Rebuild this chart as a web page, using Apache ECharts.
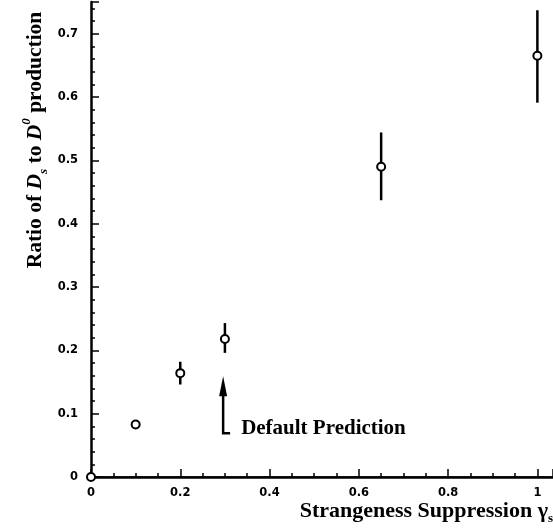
<!DOCTYPE html>
<html>
<head>
<meta charset="utf-8">
<title>Ds / D0 ratio vs strangeness suppression</title>
<script src="https://cdn.jsdelivr.net/npm/echarts@6/dist/echarts.min.js"></script>
<style>
  html, body { margin: 0; padding: 0; background: #fff; }
  #chart { width: 553px; height: 529px; }
</style>
</head>
<body>
<div id="chart"></div>
<script>
// data
var gammaS = [0, 0.1, 0.2, 0.3, 0.65, 1.0]
var ratio = [0.0, 0.083, 0.164, 0.218, 0.49, 0.665]
// error bars (only where drawn)
var errX = [0.2, 0.3, 0.65, 1.0]
var errLow = [0.146, 0.196, 0.437, 0.591]
var errHigh = [0.182, 0.243, 0.544, 0.737]
// "Default Prediction" arrow
var arrowX = 0.296
var arrowTip = 0.159
var arrowFoot = 0.069
var arrowLabel = 'Default Prediction'

;(function () {
  var myChart = echarts.init(document.getElementById('chart'))

  var serif = '"Liberation Serif", "DejaVu Serif", serif'
  var tickFont = { fontFamily: '"DejaVu Sans", sans-serif', fontWeight: 'bold', fontSize: 11.5, color: '#000' }

  var points = gammaS.map(function (x, i) { return [x, ratio[i]] })
  var errData = errX.map(function (x, i) { return [x, errLow[i], errHigh[i]] })

  var option = {
    animation: false,
    backgroundColor: '#fff',
    grid: { left: 91, right: 0, top: 2, bottom: 52 },
    xAxis: [
      {
        type: 'value',
        min: 0,
        max: 1.035,
        interval: 0.2,
        axisLine: { show: true, onZero: false, lineStyle: { color: '#000', width: 2.5 } },
        axisTick: { show: true, inside: true, length: 8, lineStyle: { color: '#000', width: 1.5 } },
        minorTick: { show: true, splitNumber: 4, length: 4, lineStyle: { color: '#000', width: 1.5 } },
        axisLabel: Object.assign({ margin: 10, showMaxLabel: false }, tickFont),
        splitLine: { show: false }
      },
      {
        // top frame line
        type: 'value',
        position: 'top',
        min: 0,
        max: 1.035,
        axisLine: { show: true, lineStyle: { color: '#000', width: 1.5 } },
        axisTick: { show: false },
        axisLabel: { show: false },
        splitLine: { show: false }
      }
    ],
    yAxis: {
      type: 'value',
      min: 0,
      max: 0.75,
      interval: 0.1,
      axisLine: { show: true, onZero: false, lineStyle: { color: '#000', width: 2.5 } },
      axisTick: { show: true, inside: true, length: 8, lineStyle: { color: '#000', width: 1.5 } },
      minorTick: { show: true, splitNumber: 5, length: 4, lineStyle: { color: '#000', width: 1.5 } },
      axisLabel: Object.assign({ margin: 13, showMaxLabel: false }, tickFont),
      splitLine: { show: false }
    },
    graphic: [
      {
        type: 'text',
        x: 553,
        y: 511,
        style: {
          text: '{a|Strangeness Suppression γ}{s|s}',
          align: 'right',
          verticalAlign: 'middle',
          rich: {
            a: { fontFamily: serif, fontWeight: 'bold', fontSize: 22, lineHeight: 28, verticalAlign: 'middle', fill: '#000' },
            s: { fontFamily: serif, fontWeight: 'bold', fontSize: 13, lineHeight: 28, verticalAlign: 'bottom', fill: '#000' }
          }
        }
      },
      {
        type: 'text',
        x: 35,
        y: 140,
        rotation: Math.PI / 2,
        style: {
          text: '{a|Ratio of }{i|D}{s|s}{a| to }{i|D}{p|0}{a| production}',
          align: 'center',
          verticalAlign: 'middle',
          rich: {
            a: { fontFamily: serif, fontWeight: 'bold', fontSize: 21.5, lineHeight: 30, verticalAlign: 'middle', fill: '#000' },
            i: { fontFamily: serif, fontWeight: 'bold', fontStyle: 'italic', fontSize: 21.5, lineHeight: 30, verticalAlign: 'middle', fill: '#000' },
            s: { fontFamily: serif, fontWeight: 'bold', fontStyle: 'italic', fontSize: 13, lineHeight: 30, verticalAlign: 'bottom', fill: '#000' },
            p: { fontFamily: serif, fontWeight: 'bold', fontStyle: 'italic', fontSize: 13, lineHeight: 30, verticalAlign: 'top', fill: '#000' }
          }
        }
      }
    ],
    series: [
      {
        name: 'errors',
        type: 'custom',
        z: 2,
        data: errData,
        renderItem: function (params, api) {
          var lo = api.coord([api.value(0), api.value(1)])
          var hi = api.coord([api.value(0), api.value(2)])
          return {
            type: 'line',
            shape: { x1: lo[0], y1: lo[1], x2: hi[0], y2: hi[1] },
            style: { stroke: '#000', lineWidth: 2.5 }
          }
        }
      },
      {
        name: 'ratio',
        type: 'scatter',
        z: 3,
        symbol: 'circle',
        symbolSize: 8,
        itemStyle: { color: '#fff', borderColor: '#000', borderWidth: 2, opacity: 1 },
        data: points
      },
      {
        name: 'annotation',
        type: 'custom',
        z: 4,
        data: [[arrowX, arrowTip, arrowFoot]],
        renderItem: function (params, api) {
          var tip = api.coord([api.value(0), api.value(1)])
          var foot = api.coord([api.value(0), api.value(2)])
          var headLen = 20
          var headW = 4
          return {
            type: 'group',
            children: [
              {
                type: 'polyline',
                shape: { points: [[tip[0], tip[1] + headLen - 2], [foot[0], foot[1]], [foot[0] + 7, foot[1]]] },
                style: { stroke: '#000', lineWidth: 2.5, fill: null }
              },
              {
                type: 'polygon',
                shape: { points: [[tip[0], tip[1]], [tip[0] - headW, tip[1] + headLen], [tip[0] + headW, tip[1] + headLen]] },
                style: { fill: '#000' }
              },
              {
                type: 'text',
                x: foot[0] + 18,
                y: foot[1] - 5,
                style: {
                  text: arrowLabel,
                  fontFamily: serif,
                  fontWeight: 'bold',
                  fontSize: 21,
                  fill: '#000',
                  align: 'left',
                  verticalAlign: 'middle'
                }
              }
            ]
          }
        }
      }
    ]
  }

  myChart.setOption(option)
})()
</script>
</body>
</html>
